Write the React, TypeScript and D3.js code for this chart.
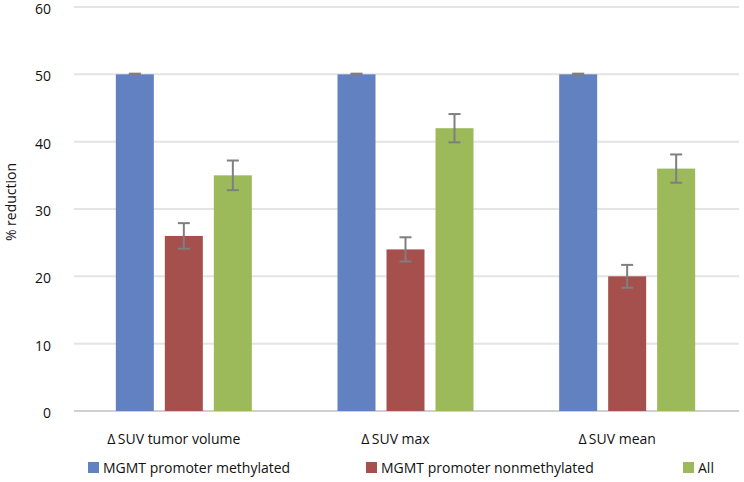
import React from "react";
import * as d3 from "d3";

const categories = ["\u0394\u2009SUV tumor volume", "\u0394\u2009SUV max", "\u0394\u2009SUV mean"];
const seriesNames = ["MGMT promoter methylated", "MGMT promoter nonmethylated", "All"];
const methylated = [50, 50, 50];
const nonmethylated = [26, 24, 20];
const allPatients = [35, 42, 36];
const methylatedErr = [0.1, 0.1, 0.1];
const nonmethylatedErr = [1.9, 1.8, 1.7];
const allErr = [2.2, 2.1, 2.1];
const yTicks = [0, 10, 20, 30, 40, 50, 60];

const colors = ["#6281C0", "#A5504C", "#9CBA5A"];

export default function App() {
  const W = 744, H = 482;
  const left = 74, right = 739, top = 7, bottom = 411;
  const font = "'Open Sans', 'Noto Sans', sans-serif";
  const x0 = d3.scaleBand<string>().domain(categories).range([left, right]).paddingInner(0).paddingOuter(0);
  const bw = 38, gap = 11;
  const y = d3.scaleLinear().domain([0, 60]).range([bottom, top]);
  const series = [
    { name: seriesNames[0], values: methylated, err: methylatedErr },
    { name: seriesNames[1], values: nonmethylated, err: nonmethylatedErr },
    { name: seriesNames[2], values: allPatients, err: allErr },
  ];
  const groupW = bw * 3 + gap * 2;
  const legendX = [88, 366, 683];
  return (
    <svg width={W} height={H} style={{ position: "absolute", left: 0, top: 0, background: "#fff" }}>
      {yTicks.map((t) => (
        <g key={t}>
          <line x1={left} x2={right} y1={y(t)} y2={y(t)} stroke={t === 0 ? "#d0d0d0" : "#e4e4e4"} strokeWidth={2} />
          <text x={51} y={y(t) + 2} dy="0.35em" textAnchor="end" fontFamily={font} fontSize={14} fill="#111">{t}</text>
        </g>
      ))}
      <text transform={`translate(16,202) rotate(-90)`} textAnchor="middle" fontFamily={font} fontSize={14} fill="#111">% reduction</text>
      {categories.map((c, i) => {
        const cx = (x0(c) as number) + x0.bandwidth() / 2 - 1;
        const start = cx - groupW / 2;
        return (
          <g key={c}>
            {series.map((s, j) => {
              const bx = start + j * (bw + gap);
              const v = s.values[i];
              const e = s.err[i];
              const mx = bx + bw / 2;
              return (
                <g key={s.name}>
                  <rect x={bx} y={y(v)} width={bw} height={y(0) - y(v)} fill={colors[j]} />
                  <line x1={mx} x2={mx} y1={y(v + e)} y2={y(v - e)} stroke="#7f7f7f" strokeWidth={2} />
                  <line x1={mx - 6} x2={mx + 6} y1={y(v + e)} y2={y(v + e)} stroke="#7f7f7f" strokeWidth={2} />
                  <line x1={mx - 6} x2={mx + 6} y1={y(v - e)} y2={y(v - e)} stroke="#7f7f7f" strokeWidth={2} />
                </g>
              );
            })}
            <text x={cx - 10} y={439} dy="0.35em" textAnchor="middle" fontFamily={font} fontSize={14} fill="#111">{c}</text>
          </g>
        );
      })}
      {seriesNames.map((n, j) => (
        <g key={n}>
          <rect x={legendX[j]} y={462} width={11} height={11} fill={colors[j]} />
          <text x={legendX[j] + 15} y={468} dy="0.35em" fontFamily={font} fontSize={14} fill="#111">{n}</text>
        </g>
      ))}
    </svg>
  );
}
